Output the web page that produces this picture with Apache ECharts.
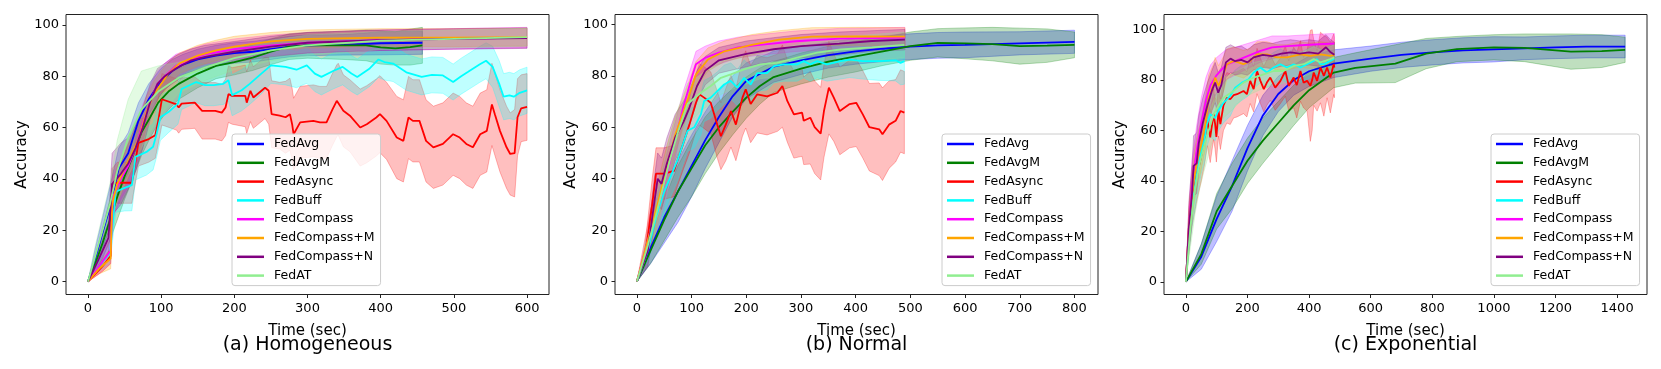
<!DOCTYPE html>
<html>
<head>
<meta charset="utf-8">
<title>Accuracy vs time</title>
<script src="https://cdn.jsdelivr.net/npm/echarts@6/dist/echarts.min.js"></script>
<style>
  html, body { margin: 0; padding: 0; background: #fff; }
  #chart { width: 1661px; height: 369px; }
</style>
</head>
<body>
<div id="chart"></div>
<script>
var methods = ['FedAvg', 'FedAvgM', 'FedAsync', 'FedBuff', 'FedCompass', 'FedCompass+M', 'FedCompass+N', 'FedAT'];
var colors = ['#0000ff', '#008000', '#ff0000', '#00ffff', '#ff00ff', '#ffa500', '#800080', '#90ee90'];
var bandRgb = ['0,0,255', '0,128,0', '255,0,0', '0,255,255', '255,0,255', '255,165,0', '128,0,128', '144,238,144'];

var yTicks = [0, 20, 40, 60, 80, 100];
var homTicks = [0, 100, 200, 300, 400, 500, 600];
var norTicks = [0, 100, 200, 300, 400, 500, 600, 700, 800];
var expTicks = [0, 200, 400, 600, 800, 1000, 1200, 1400];

// every point: [time (sec), mean accuracy, std]
// (a) Homogeneous
var homFedAvg = [[0,0,0],[10,9,4],[20,19,6],[30,29,8],[42,44,8],[55,50,8],[69,62.6,7],[83,71,6],[100,78,5],[115,82,4.5],[130,84.5,4],[150,86.5,4],[175,88,4],[200,89,4],[225,89.5,4],[250,90.5,4],[275,91.5,4],[300,92,4],[350,92.2,4],[400,92.8,4.5],[457,93,4.5]];
var homFedAvgM = [[0,0,0],[10,7,3],[20,15,6],[30,24,8],[40,33,9],[50,41,9],[60,48,9],[73,58,9],[85,64,8],[96,69.7,8],[110,74,7],[124,77,6],[150,81,5.5],[175,84,5],[200,85.5,5],[225,87.2,5],[250,89.5,5],[275,91.5,5],[300,92,5],[350,92,5.5],[380,92,6],[400,91.2,6.5],[420,90.8,6.5],[440,91.3,7],[457,92,7]];
var homFedAsync = [[0,0,0],[10,3,1],[20,6,2],[31,10,3],[33,38,6],[40,38.5,8],[60,38.5,8],[62,42,8],[69,54,9],[83,55.5,9],[92,57,9],[96,62.5,9],[101,71,10],[121,69,10],[124,67.8,10],[128,69.3,10],[146,69.7,10],[156,66.5,11],[174,66.5,11],[183,65.8,11],[188,67.8,11],[192,73,11],[197,72.3,11],[215,72.3,12],[217,69.7,12],[222,74.3,12],[226,71.7,12],[242,75.5,12],[247,74.3,13],[251,65.2,13],[262,64.6,13],[270,64,14],[276,65.2,14],[279,61.3,14],[281,57.4,14],[290,62,14],[308,62.6,14],[317,62,14],[326,62,14],[334,67,14],[340,70.4,14],[342,71,14],[349,66.5,14],[358,64.6,14],[372,60,15],[381,61.3,15],[394,63.9,15],[399,65.2,15],[408,62.6,15],[422,56.1,16],[431,54.8,16],[438,63.9,16],[444,62.6,16],[453,62.6,16],[462,54.8,16],[472,52.3,16],[485,53.6,16],[499,57.4,16],[508,56.1,16],[517,53.6,16],[526,52.3,16],[536,57.4,16],[545,58.7,16],[552,69,16],[556,65.2,16],[563,58.7,16],[572,52.3,16],[577,49.7,16],[583,50,17],[587,64,15],[592,67.5,13],[600,68,13]];
var homFedBuff = [[0,0,0],[15,6,2],[30,11,4],[38,35,8],[50,36.5,9],[60,37.6,10],[65,48.6,9],[80,50.5,9],[89,52.5,9],[94,57.7,9],[99,64,9],[110,66,8],[123,69.3,8],[128,75,8],[148,77.7,8],[160,76.5,8],[172,76.5,8],[185,77,8],[192,78.4,8],[197,72.6,8],[210,74.5,8],[221,77,8],[235,80.5,8],[250,84.2,7],[270,83.6,7],[285,82.5,7],[299,84.2,7],[310,81,7],[319,79.7,7],[335,82,7],[348,83.6,7],[360,81,7],[368,79.7,7],[385,83,7],[397,86.5,7],[405,85.5,7],[417,84.9,7],[435,81.5,7],[456,79.7,7],[470,80.5,7],[485,80.3,7],[499,77.7,7],[510,80,7],[519,81.6,7],[535,84.5,7],[544,86,7],[553,83.6,8],[562,77,9],[568,72,9],[576,72.5,9],[582,72,9],[590,73.5,9],[600,74.5,9]];
var homFedCompass = [[0,0,0],[15,6,3],[31,12,5],[34,33,8],[45,40,8],[55,45,8],[65,52,8],[75,62,7],[85,70,6],[95,77,5],[105,80,5],[120,84,4.5],[140,86.5,4],[160,88.5,4],[180,89.5,4],[200,90.5,4],[250,92,4],[300,93,4],[400,94,4],[500,94.5,4],[600,95,4]];
var homFedCompassM = [[0,0,0],[15,5,2],[31,9,4],[33,30,7],[40,38,7],[50,44,7],[60,50,7],[70,56,7],[80,66,6],[90,73,5],[100,77,5],[110,81,4.5],[125,85,4],[150,88,4],[175,90,4],[200,91.5,4],[250,93.5,3.5],[300,94.5,3.5],[400,95,3.5],[500,95,3.5],[600,95.2,3.5]];
var homFedCompassN = [[0,0,0],[15,9,4],[28,17,6],[33,38,12],[45,42,12],[55,46,10],[65,52,9],[75,60,8],[85,70,7],[95,77,6],[105,80,5],[120,83,5],[140,86,4.5],[160,87.5,4.5],[200,89.5,4],[250,91.5,4],[300,93,4],[400,94,4],[500,94.5,4],[600,94.8,4]];
var homFedAT = [[0,0,0],[10,10,4],[20,20,6],[30,30,8],[40,43,12],[55,56,15],[73,67,15],[96,74,10],[124,79.4,6],[160,83.3,5],[200,87,4.5],[250,90,4],[300,92,4],[400,93.8,3.5],[500,94.5,3.5],[600,95.2,3.5]];

// (b) Normal
var norFedAvg = [[0,0,0],[25,13,6],[50,25,10],[75,35,12],[100,45,12],[125,55,11],[150,64,10],[175,72,8],[200,78,7],[250,83.5,6],[300,86,5.5],[350,88,5],[400,89.5,5],[450,90.5,5],[500,91.3,5],[550,91.8,5],[600,92,5],[700,92.6,4.5],[800,93.2,4.5]];
var norFedAvgM = [[0,0,0],[25,12,5],[50,24,8],[75,35,10],[100,44,11],[125,53,11],[150,60,10],[175,66,9],[200,71.5,8],[225,76,7],[250,79.5,6],[300,82.8,6],[350,85.5,6],[400,87.5,6],[450,89.5,5.5],[500,91.5,5.5],[550,92.8,5.5],[600,92.6,6],[650,92.3,6.5],[700,91.5,7],[750,91.7,6.5],[800,92,5]];
var norFedAsync = [[0,0,0],[15,10,4],[28,30,10],[35,42,10],[50,42,10],[68,43,10],[74,47,10],[83.5,52.8,10],[96,61,11],[108,69.5,11],[114,72.8,12],[123,71.5,12],[135,69.5,12],[147,61,13],[153.6,56.5,13],[162.5,61,14],[172,66.3,14],[181,61,14],[193,71.5,15],[199,74.7,15],[208,69,15],[220,72.8,15],[238,72,15],[257,73.4,15],[266,76,16],[275,70.2,16],[287,65,17],[302,65.7,17],[305,62.5,17],[317,63.7,18],[325,60,18],[336,57.5,18],[342,66.3,18],[351,75.4,18],[360,71.5,17],[371,66.3,17],[389,69,17],[401,69.5,17],[413,65,17],[425,60,17],[443,59.2,18],[449,57.3,18],[461,61,17],[473,62.5,16],[482,66.3,16],[489,65.7,16]];
var norFedBuff = [[0,0,0],[20,12,4],[35,25,7],[50,35,8],[60,40,8],[74,47,8],[92.6,58.6,8],[105,60,8],[117,65,8],[123,70.2,8],[135,71.5,8],[147,74,7.5],[159.5,76.6,7.5],[171.6,78,7],[183.6,75.4,7],[196,79.2,7],[208,76.6,7],[220,81,7],[238,81,6.5],[250.5,83.7,6.5],[268.7,84.4,6.5],[293,84.4,6.5],[305,85.7,6.5],[317,84.4,6.5],[329.5,85.7,6.5],[347.6,84.4,6.5],[372,85.7,7],[389,86.3,7],[413,85.7,7],[443,85.7,7.5],[473,86,8],[482,85,8.5],[489,85.7,9]];
var norFedCompass = [[0,0,0],[25,20,8],[40,30,8],[55,42,8],[70,55,7],[85,68,6],[100,79,5],[108,84.5,5],[125,87,4.5],[150,89,4.5],[185,91,4],[225,92,4],[290,93.4,4],[370,94.4,4],[490,94.8,4]];
var norFedCompassM = [[0,0,0],[25,20,8],[40,32,8],[55,45,8],[70,57,7],[85,66,6],[95,72,5.5],[108,80.5,5],[130,86.3,4.5],[160,89.5,4],[210,92,4],[260,94,3.5],[320,95.2,3.5],[400,95.3,3.5],[490,95.2,3.5]];
var norFedCompassN = [[0,0,0],[20,12,6],[30,28,9],[38,40,10],[45,38,10],[55,46,10],[70,56,9],[85,62,8],[95,67,7],[110,76,6],[125,82,5.5],[150,86,5],[200,88.5,5],[250,90.3,4.5],[300,91.5,4.5],[370,92.5,4.5],[430,93.5,4],[490,94,4]];
var norFedAT = [[0,0,0],[20,14,5],[40,30,8],[60,47,9],[75,58,9],[92.6,69,8],[117,73.4,7],[135,76,7],[153.6,79.2,6.5],[171.6,80.5,6],[196,82.5,6],[226,84.4,5.5],[256.6,85,5.5],[293,87,5],[329.5,89,5],[372,90.2,5],[430,91,5],[489,92,5]];

// (c) Exponential
var expFedAvg = [[0,0,0],[50,10,5],[100,25,9],[150,38,10],[200,53,9],[250,66,8],[300,74.5,7],[350,80,6],[400,83.5,6],[480,86.5,5.5],[600,88.5,5],[700,90,5],[800,91,5],[900,91.8,5],[1000,92.2,5],[1100,92.6,4.5],[1200,93,4.5],[1300,93.3,4.5],[1426,93.3,4.5]];
var expFedAvgM = [[0,0,0],[50,11,4],[100,28,7],[150,38,9],[200,48,9],[250,56,9],[300,63,8.5],[350,70,8],[400,76,7],[480,83,6],[550,84.8,6],[680,86.5,7.5],[780,90.5,6],[880,92.3,5],[1000,93,5],[1100,92.8,5.5],[1250,91.3,7],[1350,91.5,6.5],[1426,92,5]];
var expFedAsync = [[0,0,0],[10,20,8],[20,32,10],[35,42,10],[50,50,10],[60,56,10],[70,64,10],[79,57.3,10],[90,66.5,10],[95,62.5,10],[99,57.5,10],[106,67.8,10],[112,62.5,10],[122,70,10],[133,73,10],[144,72.4,10],[155,74,9],[166,74.4,9],[187,75.7,9],[198,74.4,9],[209,79.7,9],[220,76.4,9],[231,83.6,9],[242,79.7,9],[253,76.4,9],[263,79,9],[274,81,9],[290,77,9],[307,79.7,9],[323,83.6,10],[334,77.7,10],[350,81,12],[360,78,13],[372,83.6,12],[382,79,10],[393.6,79.7,12],[404,77.7,22],[410,80,20],[415,83,13],[426,79.7,12],[437,85,14],[448,81.7,16],[458.5,85,12],[469,81,14],[480,86.3,12],[482,85,12]];
var expFedBuff = [[0,0,0],[10,18,6],[20,30,8],[35,42,9],[50,52,9],[60,56,9],[68,62.5,9],[79,66.5,9],[95,65,9],[106,68,8],[122,71,8],[144,73.7,8],[160,77,7],[182,79,7],[203.6,80.3,6.5],[220,83,6.5],[242,85,6],[263,83,6],[285,85,6],[306.6,86.3,6],[328,85,6],[350,86.3,6],[372,85,6],[393.6,86.3,6],[415,87.6,6],[426,88.3,6],[436.7,86.3,6],[447.6,86.3,6],[469,87.6,6],[482,88.5,6]];
var expFedCompass = [[0,0,0],[10,22,8],[20,38,10],[35,52,10],[50,63,10],[65,72,9],[80,78,8],[100,82,7],[130,86,6],[160,87.5,5.5],[200,89.5,5],[240,91.5,4.5],[280,93,4.5],[330,93.5,4],[400,94,4],[482,94.5,4]];
var expFedCompassM = [[0,0,0],[10,22,8],[25,40,10],[35,47,10],[47,53,10],[63,62.5,10],[74,73,9],[90,78.4,8],[95,81,8],[106,77.7,8],[122,82.3,7],[133,86.3,6],[155,87.6,5.5],[187,86.3,5.5],[209,87.6,5],[231,90.2,5],[263,90.2,5],[296,89,5],[328,89,5],[372,90.2,5],[404,89.6,5],[437,90.2,5],[469,89.6,5],[482,90,5]];
var expFedCompassN = [[0,0,0],[10,22,10],[20,35,12],[25,46,12],[35,47,12],[42,55,11],[55,63,10],[70,70,9],[85,76,8],[95,79,8],[105,75,8],[115,78,7],[130,87,6],[145,88.5,5.5],[160,87.5,5.5],[180,88,5.5],[200,87,5],[220,89,5],[250,90,5],[280,89.5,5],[310,90.5,5],[340,91,5],[370,90.5,5],[400,91,5],[430,90.5,5],[455,93,5],[470,91,5],[482,90,5]];
var expFedAT = [[0,0,0],[15,22,8],[30,37,10],[45,47,10],[57,53,10],[90,66.5,9],[122,73,8],[155,75.7,7],[187,79,6],[220,81,6],[252.6,82.3,5.5],[285,83.6,5.5],[317,83.6,5],[350,85.6,5],[382.6,86.3,5],[415,88.3,5],[436.7,87,5],[469,88.3,5],[482,89,5]];

var panels = [
  { title: '(a) Homogeneous', ticks: homTicks, xMin: -30, xMax: 630, yMax: 104, left: 66, legendLeft: 232,
    runs: [homFedAvg, homFedAvgM, homFedAsync, homFedBuff, homFedCompass, homFedCompassM, homFedCompassN, homFedAT] },
  { title: '(b) Normal', ticks: norTicks, xMin: -40, xMax: 843, yMax: 103.8, left: 615, legendLeft: 942,
    runs: [norFedAvg, norFedAvgM, norFedAsync, norFedBuff, norFedCompass, norFedCompassM, norFedCompassN, norFedAT] },
  { title: '(c) Exponential', ticks: expTicks, xMin: -71, xMax: 1497, yMax: 106, left: 1164, legendLeft: 1491,
    runs: [expFedAvg, expFedAvgM, expFedAsync, expFedBuff, expFedCompass, expFedCompassM, expFedCompassN, expFedAT] }
];

var FONT = 'DejaVu Sans';
var gridW = 483, gridTop = 14.5, gridH = 280;

var chart = echarts.init(document.getElementById('chart'), null, { renderer: 'canvas' });

var grids = [], xAxes = [], yAxes = [], legends = [], titles = [], series = [];

panels.forEach(function (p, gi) {
  grids.push({ left: p.left, top: gridTop, width: gridW, height: gridH, show: true,
    borderColor: '#222', borderWidth: 1, backgroundColor: 'transparent' });

  xAxes.push({
    gridIndex: gi, type: 'value', min: p.xMin, max: p.xMax, position: 'bottom',
    name: 'Time (sec)', nameLocation: 'middle', nameGap: 29,
    nameTextStyle: { fontFamily: FONT, fontSize: 15, color: '#000' },
    axisLine: { show: false, onZero: false },
    axisTick: { show: true, length: 3.5, customValues: p.ticks, lineStyle: { color: '#222', width: 1 } },
    axisLabel: { customValues: p.ticks, fontFamily: FONT, fontSize: 13, color: '#000', margin: 7.5,
      formatter: function (v) { return String(v); } },
    splitLine: { show: false }
  });

  yAxes.push({
    gridIndex: gi, type: 'value', min: -5, max: p.yMax, position: 'left',
    name: 'Accuracy', nameLocation: 'middle', nameGap: 36, nameRotate: 90,
    nameTextStyle: { fontFamily: FONT, fontSize: 15, color: '#000' },
    axisLine: { show: false, onZero: false },
    axisTick: { show: true, length: 3.5, customValues: yTicks, lineStyle: { color: '#222', width: 1 } },
    axisLabel: { customValues: yTicks, fontFamily: FONT, fontSize: 13, color: '#000', margin: 7 },
    splitLine: { show: false }
  });

  titles.push({ text: p.title, left: p.left + gridW / 2, top: 336, textAlign: 'center', padding: 0,
    textStyle: { fontFamily: FONT, fontSize: 19, fontWeight: 'normal', color: '#000' } });

  legends.push({
    data: methods, orient: 'vertical', left: p.legendLeft, top: 134,
    padding: [3, 6, 3, 5], itemGap: 4.8, itemWidth: 27, itemHeight: 2.5, icon: 'rect',
    backgroundColor: 'rgba(255,255,255,0.8)', borderColor: '#cccccc', borderWidth: 1, borderRadius: 3,
    selectedMode: false,
    textStyle: { fontFamily: FONT, fontSize: 12.5, color: '#000', lineHeight: 14, padding: [0, 0, 0, 5] }
  });

  // std bands first, underneath every line
  p.runs.forEach(function (pts, si) {
    series.push({
      type: 'custom', name: methods[si] + ' band', xAxisIndex: gi, yAxisIndex: gi,
      z: 1, silent: true, clip: true, animation: false,
      data: [[0, 0]],
      renderItem: function (params, api) {
        var upper = pts.map(function (q) { return api.coord([q[0], q[1] + q[2]]); });
        var lower = pts.map(function (q) { return api.coord([q[0], q[1] - q[2]]); }).reverse();
        return {
          type: 'polygon',
          shape: { points: upper.concat(lower) },
          style: { fill: 'rgba(' + bandRgb[si] + ',0.25)', stroke: 'rgba(' + bandRgb[si] + ',0.35)', lineWidth: 0.8 }
        };
      }
    });
  });

  p.runs.forEach(function (pts, si) {
    series.push({
      type: 'line', name: methods[si], xAxisIndex: gi, yAxisIndex: gi, z: 2,
      showSymbol: false, symbol: 'none', animation: false, clip: true,
      color: colors[si],
      lineStyle: { color: colors[si], width: 1.8 },
      data: pts.map(function (q) { return [q[0], q[1]]; })
    });
  });
});

chart.setOption({
  backgroundColor: '#fff',
  animation: false,
  title: titles,
  legend: legends,
  grid: grids,
  xAxis: xAxes,
  yAxis: yAxes,
  series: series
});
</script>
</body>
</html>
